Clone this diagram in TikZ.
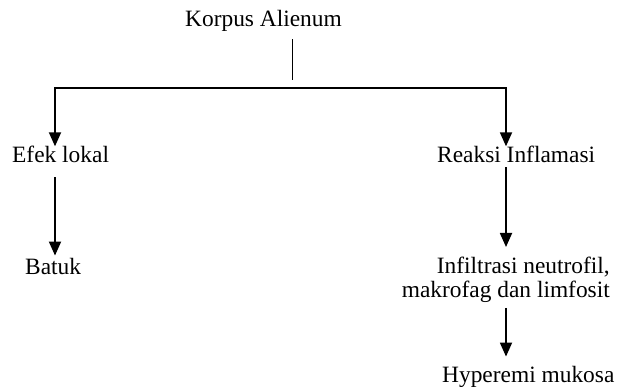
\documentclass[tikz,border=0pt]{standalone}
\usepackage{fontspec}
\setmainfont{Liberation Serif}
\usetikzlibrary{arrows.meta}
\tikzset{
	lbl/.style={inner sep=0pt, font=\fontsize{23.4}{24}\selectfont},
	flow/.style={line width=1.8pt}
}
\begin{document}
\begin{tikzpicture}[x=1pt,y=-1pt,>={Triangle[length=14pt,width=12pt]}]
	\useasboundingbox (0,0) rectangle (627,387);
	% labels
	\node[lbl,anchor=base west] (korpus) at (185,27) {Korpus Alienum};
	\node[lbl,anchor=base west] (efek) at (12,163) {Efek lokal};
	\node[lbl,anchor=base west] (reaksi) at (437,163) {Reaksi Inflamasi};
	\node[lbl,anchor=base west] (batuk) at (25,275) {Batuk};
	\node[lbl,anchor=north east,align=right] (infil) at (610,257) {Infiltrasi neutrofil,\\makrofag dan limfosit};
	\node[lbl,anchor=base west] (hyper) at (442,383) {Hyperemi mukosa};
	\coordinate (split) at (292,80);
	\coordinate (barL) at (55,88);
	\coordinate (barR) at (506,88);
	% connectors
	\draw[line width=1pt] ([yshift=-7pt]korpus.south -| split) -- (split);
	\draw[flow,<->] (barL |- efek.north) -- (barL) -- (barR) -- (barR |- reaksi.north);
	\draw[flow,->] ([yshift=-14pt]efek.south -| barL) -- ([yshift=3pt]batuk.north -| barL);
	\draw[flow,->] ([yshift=-4pt]reaksi.south -| barR) -- ([yshift=10pt]infil.north -| barR);
	\draw[flow,->] ([yshift=-5pt]infil.south -| barR) -- ([yshift=10pt]hyper.north -| barR);
\end{tikzpicture}
\end{document}
